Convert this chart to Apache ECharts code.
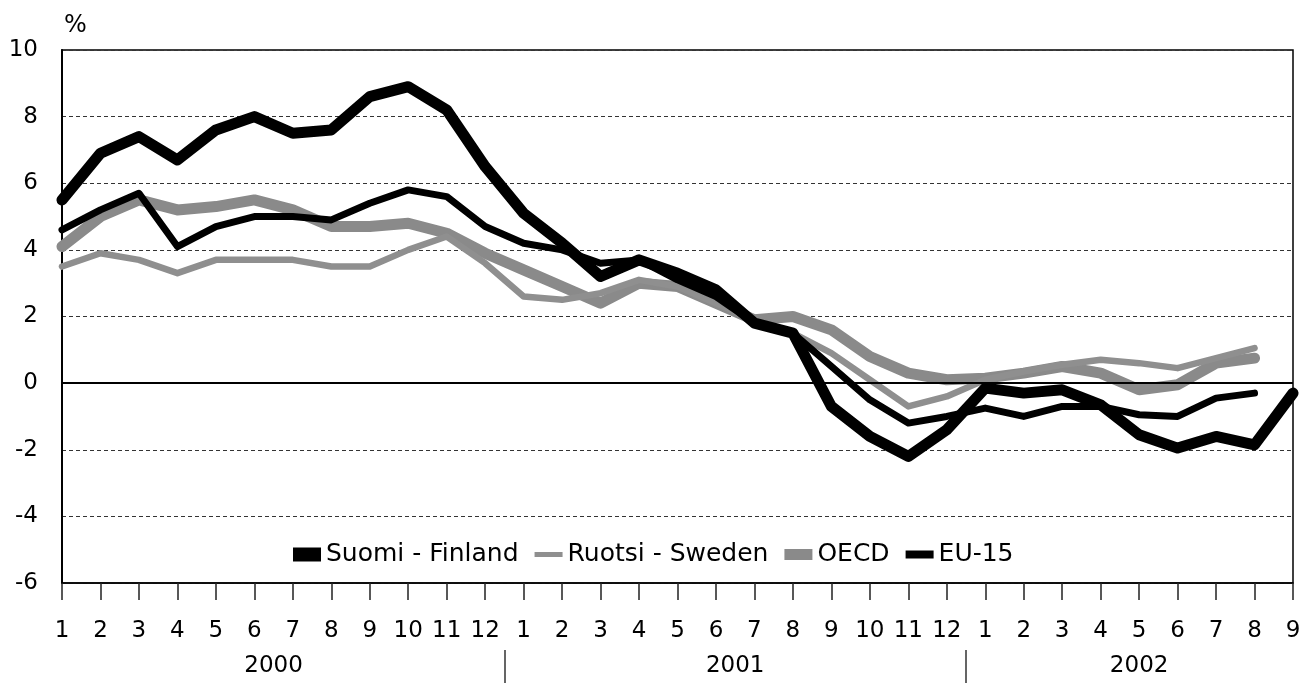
<!DOCTYPE html>
<html>
<head>
<meta charset="utf-8">
<script src="https://cdn.jsdelivr.net/npm/echarts@6/dist/echarts.min.js"></script>
<style>html,body{margin:0;padding:0;background:#fff}#c{width:1304px;height:684px}</style>
</head>
<body>
<div id="c"></div>
<script>
const months = ['1','2','3','4','5','6','7','8','9','10','11','12',
                '1','2','3','4','5','6','7','8','9','10','11','12',
                '1','2','3','4','5','6','7','8','9'];
const years = ['2000','2001','2002'];
const seriesNames = ['Suomi - Finland','Ruotsi - Sweden','OECD','EU-15'];

const finland = [5.5, 6.9, 7.4, 6.7, 7.6, 8.0, 7.5, 7.6, 8.6, 8.9, 8.2, 6.5,
                 5.1, 4.2, 3.2, 3.7, 3.3, 2.8, 1.8, 1.5, -0.7, -1.6, -2.2, -1.4,
                 -0.15, -0.3, -0.2, -0.65, -1.55, -1.95, -1.6, -1.85, -0.3];
const sweden  = [3.5, 3.9, 3.7, 3.3, 3.7, 3.7, 3.7, 3.5, 3.5, 4.0, 4.4, 3.6,
                 2.6, 2.5, 2.7, 3.1, 2.9, 2.4, 1.9, 1.5, 0.9, 0.1, -0.7, -0.4,
                 0.1, 0.35, 0.55, 0.7, 0.6, 0.45, 0.75, 1.05, null];
const oecd    = [4.1, 5.0, 5.5, 5.2, 5.3, 5.5, 5.2, 4.7, 4.7, 4.8, 4.5, 3.9,
                 3.4, 2.9, 2.4, 3.0, 2.9, 2.4, 1.9, 2.0, 1.6, 0.8, 0.3, 0.1,
                 0.15, 0.3, 0.5, 0.3, -0.2, -0.05, 0.6, 0.75, null];
const eu15    = [4.6, 5.2, 5.7, 4.1, 4.7, 5.0, 5.0, 4.9, 5.4, 5.8, 5.6, 4.7,
                 4.2, 4.0, 3.6, 3.7, 3.1, 2.6, 1.8, 1.5, 0.5, -0.5, -1.2, -1.0,
                 -0.75, -1.0, -0.7, -0.7, -0.95, -1.0, -0.45, -0.3, null];

// year groups derived from the month categories
const yearStarts = months.map((m, i) => m === '1' ? i : -1).filter(i => i >= 0);
const yearBreaks = yearStarts.slice(1).map(s => s - 0.5);
const yearCenters = yearStarts.map((s, k) => (s + (k + 1 < yearStarts.length ? yearStarts[k + 1] - 1 : months.length - 1)) / 2);

const FONT = 'DejaVu Sans';
const chart = echarts.init(document.getElementById('c'), null, {renderer: 'canvas'});

function lineSeries(name, data, color, width, z) {
  return {
    name: name, type: 'line', data: data, symbol: 'none', showSymbol: false,
    connectNulls: false, z: z,
    lineStyle: {color: color, width: width, cap: 'round', join: 'round'},
    itemStyle: {color: color}
  };
}

const sFin = lineSeries(seriesNames[0], finland, '#000000', 11, 6);
sFin.markLine = {
  silent: true, symbol: 'none', label: {show: false},
  lineStyle: {color: '#000', width: 2, type: 'solid'},
  data: [{yAxis: 0}]
};

const option = {
  animation: false,
  backgroundColor: '#ffffff',
  textStyle: {fontFamily: FONT},
  grid: {left: 62, right: 11, top: 50, bottom: 101, show: true, borderColor: '#000', borderWidth: 1.5},
  legend: {
    left: 288, top: 537, itemWidth: 28, itemHeight: 14, itemGap: 16,
    textStyle: {fontFamily: FONT, fontSize: 25, color: '#000'},
    data: [
      {name: seriesNames[0], icon: 'rect'},
      {name: seriesNames[1], icon: 'path://M0,0H28V5H0Z'},
      {name: seriesNames[2], icon: 'path://M0,0H28V11H0Z'},
      {name: seriesNames[3], icon: 'path://M0,0H28V8H0Z'}
    ]
  },
  xAxis: [
    {
      type: 'category', data: months, boundaryGap: false,
      axisLine: {onZero: false, lineStyle: {color: '#000', width: 1.5}},
      axisTick: {interval: 0, length: 17, lineStyle: {color: '#222', width: 1.5}},
      axisLabel: {interval: 0, margin: 37, fontSize: 23, color: '#000', fontFamily: FONT},
      splitLine: {show: false}
    },
    {
      type: 'value', min: 0, max: months.length - 1, position: 'bottom', offset: 67,
      axisLine: {show: false, onZero: false},
      axisTick: {show: true, customValues: yearBreaks, length: 33, lineStyle: {color: '#333', width: 1.5}},
      axisLabel: {
        customValues: yearCenters, margin: 5, fontSize: 23, color: '#000', fontFamily: FONT,
        formatter: function (v) { const k = yearCenters.indexOf(v); return k >= 0 ? years[k] : ''; }
      },
      splitLine: {show: false}
    }
  ],
  yAxis: {
    type: 'value', min: -6, max: 10, interval: 2,
    name: '%', nameLocation: 'end', nameGap: 12,
    nameTextStyle: {fontSize: 24, align: 'left', verticalAlign: 'bottom', color: '#000', fontFamily: FONT, padding: [0, 0, 0, 2]},
    axisLine: {show: true, lineStyle: {color: '#000', width: 2}},
    axisTick: {show: false},
    axisLabel: {margin: 24, fontSize: 23, color: '#000', fontFamily: FONT},
    splitLine: {show: true, lineStyle: {type: [4, 3], color: '#333', width: 1.2}}
  },
  series: [
    sFin,
    lineSeries(seriesNames[1], sweden, '#8f8f8f', 6.5, 3),
    lineSeries(seriesNames[2], oecd, '#8a8a8a', 11, 2),
    lineSeries(seriesNames[3], eu15, '#000000', 7, 5)
  ]
};
chart.setOption(option);
</script>
</body>
</html>
